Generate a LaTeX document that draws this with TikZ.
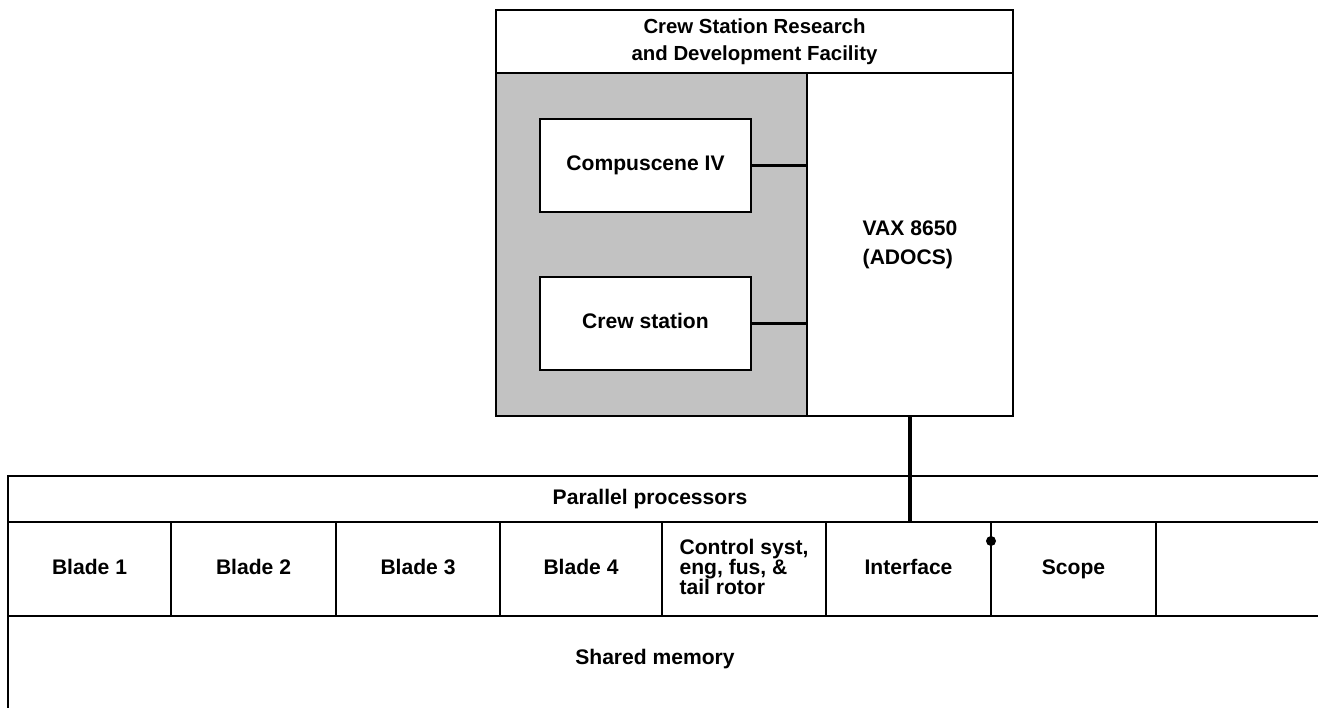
\documentclass[tikz,border=0pt]{standalone}
\usepackage{fontspec}
\setmainfont{Liberation Sans}
\usetikzlibrary{positioning}

\begin{document}
\begin{tikzpicture}[x=0.02cm,y=-0.02cm,
 box/.style={draw,line width=1pt,inner sep=0pt,align=center,font=\fontsize{12}{15.3}\selectfont\bfseries},
 cell/.style={box,minimum height=1.88cm,text depth=0.08cm},
 link/.style={line width=1.8pt}]
\useasboundingbox (0,0) rectangle (1318,707);
% ---------- facility block
\node[box,minimum width=10.34cm,minimum height=8.12cm] (csrdf) at (754.5,213){};
\node[box,font=\fontsize{11.6}{15.3}\selectfont\bfseries,minimum width=10.34cm,minimum height=1.26cm] (title) at (754.5,41.5){Crew Station Research\\and Development Facility};
\node[box,fill=black!24,minimum width=6.22cm,minimum height=6.86cm] (shade) at (651.5,244.5){};
\node[box,align=left,minimum width=4.12cm,minimum height=6.86cm,font=\fontsize{12}{16.4}\selectfont\bfseries] (vax) at (910,244.5){VAX 8650\\(ADOCS)};
\node[box,fill=white,minimum width=4.22cm,minimum height=1.86cm] (comp) at (645.5,165.5){Compuscene IV};
\node[box,fill=white,minimum width=4.22cm,minimum height=1.86cm,text depth=0.12cm] (crew) at (645.5,323.5){Crew station};
\draw[link] (comp.east) -- (comp.east -| vax.west);
\draw[link] (crew.east) -- (crew.east -| vax.west);
% ---------- parallel processors
\node[box,minimum width=26.44cm,minimum height=0.92cm] (par) at (669,499){};
\node[font=\fontsize{12}{15.3}\selectfont\bfseries] (partext) at (650,499){Parallel processors};
\node[box,minimum width=26.44cm,minimum height=2.28cm] (mem) at (669,673){};
\node[font=\fontsize{12}{15.3}\selectfont\bfseries] (memtext) at (655,659){Shared memory};
\foreach \n/\x/\w/\t in {b1/89.5/3.26/Blade 1,b2/253.5/3.3/Blade 2,b3/418/3.28/Blade 3,b4/581/3.24/Blade 4,
 intf/908.5/3.3/Interface,scope/1073.5/3.3/Scope,spare/1243/3.48/{}}
 \node[cell,minimum width=\w cm] (\n) at (\x,569){\t};
\node[cell,minimum width=3.28cm,align=left,font=\fontsize{12}{14}\selectfont\bfseries] (ctrl) at (744,569){Control syst,\\[-2.7pt]eng, fus, \&\\[-2.7pt]tail rotor};
\draw[link] (vax.south) -- (vax.south |- par.south);
\node[circle,fill,inner sep=0pt,minimum size=0.2cm] (dot) at (991,541){};
\end{tikzpicture}
\end{document}
